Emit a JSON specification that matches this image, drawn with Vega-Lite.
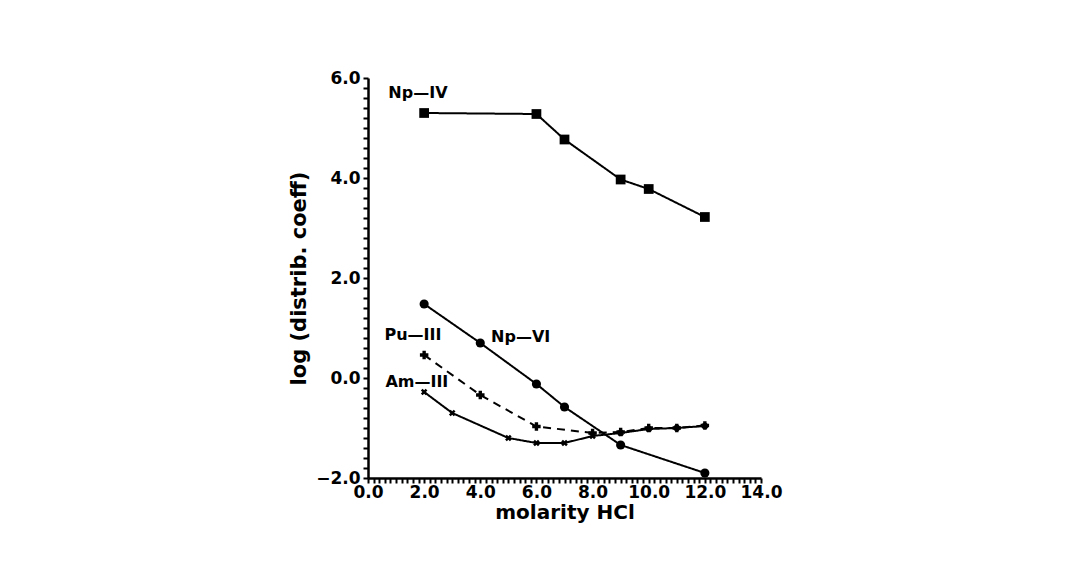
{
  "$schema": "https://vega.github.io/schema/vega-lite/v6.json",
  "autosize": {"type": "none"},
  "padding": {"left": 368, "top": 78, "right": 324, "bottom": 97},
  "width": 393,
  "height": 400,
  "background": "white",
  "config": {
    "view": {"stroke": null},
    "font": "DejaVu Sans"
  },
  "datasets": {
    "series": [
      {"series": "Np-IV", "molarity": 2, "logD": 5.3},
      {"series": "Np-IV", "molarity": 6, "logD": 5.28},
      {"series": "Np-IV", "molarity": 7, "logD": 4.77},
      {"series": "Np-IV", "molarity": 9, "logD": 3.97},
      {"series": "Np-IV", "molarity": 10, "logD": 3.78},
      {"series": "Np-IV", "molarity": 12, "logD": 3.22},
      {"series": "Np-VI", "molarity": 2, "logD": 1.48},
      {"series": "Np-VI", "molarity": 4, "logD": 0.7},
      {"series": "Np-VI", "molarity": 6, "logD": -0.12},
      {"series": "Np-VI", "molarity": 7, "logD": -0.58},
      {"series": "Np-VI", "molarity": 9, "logD": -1.34},
      {"series": "Np-VI", "molarity": 12, "logD": -1.9},
      {"series": "Pu-III", "molarity": 2, "logD": 0.46},
      {"series": "Pu-III", "molarity": 4, "logD": -0.34},
      {"series": "Pu-III", "molarity": 6, "logD": -0.97},
      {"series": "Pu-III", "molarity": 8, "logD": -1.1},
      {"series": "Pu-III", "molarity": 9, "logD": -1.08},
      {"series": "Pu-III", "molarity": 10, "logD": -1.0},
      {"series": "Pu-III", "molarity": 11, "logD": -1.0},
      {"series": "Pu-III", "molarity": 12, "logD": -0.95},
      {"series": "Am-III", "molarity": 2, "logD": -0.28},
      {"series": "Am-III", "molarity": 3, "logD": -0.7},
      {"series": "Am-III", "molarity": 5, "logD": -1.2},
      {"series": "Am-III", "molarity": 6, "logD": -1.3},
      {"series": "Am-III", "molarity": 7, "logD": -1.3},
      {"series": "Am-III", "molarity": 8, "logD": -1.16},
      {"series": "Am-III", "molarity": 9, "logD": -1.1},
      {"series": "Am-III", "molarity": 10, "logD": -1.02},
      {"series": "Am-III", "molarity": 11, "logD": -1.0},
      {"series": "Am-III", "molarity": 12, "logD": -0.96}
    ],
    "labels": [
      {"label": "Np—IV", "molarity": 1.78, "logD": 5.7},
      {"label": "Np—VI", "molarity": 5.44, "logD": 0.82},
      {"label": "Pu—III", "molarity": 1.6, "logD": 0.86},
      {"label": "Am—III", "molarity": 1.74, "logD": -0.08}
    ]
  },
  "encoding": {
    "x": {
      "field": "molarity",
      "type": "quantitative",
      "scale": {"domain": [0, 14], "nice": false, "zero": false},
      "axis": {
        "title": "molarity HCl",
        "titleFont": "DejaVu Sans",
        "titleFontSize": 20,
        "titleFontWeight": "bold",
        "titleColor": "black",
        "titlePadding": 2,
        "values": [0,0.2,0.4,0.6,0.8,1,1.2,1.4,1.6,1.8,2,2.2,2.4,2.6,2.8,3,3.2,3.4,3.6,3.8,4,4.2,4.4,4.6,4.8,5,5.2,5.4,5.6,5.8,6,6.2,6.4,6.6,6.8,7,7.2,7.4,7.6,7.8,8,8.2,8.4,8.6,8.8,9,9.2,9.4,9.6,9.8,10,10.2,10.4,10.6,10.8,11,11.2,11.4,11.6,11.8,12,12.2,12.4,12.6,12.8,13,13.2,13.4,13.6,13.8,14],
        "labelExpr": "round(datum.value*10) % 20 == 0 ? format(datum.value, '.1f') : ''",
        "labelOverlap": false,
        "labelFont": "DejaVu Sans",
        "labelFontSize": 17,
        "labelFontWeight": "bold",
        "labelColor": "black",
        "labelPadding": 1,
        "labelFlush": false,
        "domainColor": "black",
        "domainWidth": 2.5,
        "tickColor": "black",
        "tickWidth": 2,
        "tickSize": 5,
        "grid": false
      }
    },
    "y": {
      "field": "logD",
      "type": "quantitative",
      "scale": {"domain": [-2, 6], "nice": false, "zero": false},
      "axis": {
        "title": "log (distrib. coeff)",
        "titleFont": "DejaVu Sans",
        "titleFontSize": 21,
        "titleFontWeight": "bold",
        "titleColor": "black",
        "titlePadding": 6,
        "values": [-2,-1.8,-1.6,-1.4,-1.2,-1,-0.8,-0.6,-0.4,-0.2,0,0.2,0.4,0.6,0.8,1,1.2,1.4,1.6,1.8,2,2.2,2.4,2.6,2.8,3,3.2,3.4,3.6,3.8,4,4.2,4.4,4.6,4.8,5,5.2,5.4,5.6,5.8,6],
        "labelExpr": "round(datum.value*10) % 20 == 0 ? format(datum.value, '.1f') : ''",
        "labelOverlap": false,
        "labelFont": "DejaVu Sans",
        "labelFontSize": 17,
        "labelFontWeight": "bold",
        "labelColor": "black",
        "labelPadding": 3,
        "labelFlush": false,
        "domainColor": "black",
        "domainWidth": 2.5,
        "tickColor": "black",
        "tickWidth": 2,
        "tickSize": 5,
        "grid": false
      }
    }
  },
  "layer": [
    {
      "data": {"name": "series"},
      "mark": {"type": "line", "color": "black", "strokeWidth": 2},
      "encoding": {
        "detail": {"field": "series", "type": "nominal"},
        "strokeDash": {
          "field": "series",
          "type": "nominal",
          "scale": {"domain": ["Np-IV", "Np-VI", "Pu-III", "Am-III"], "range": [[1, 0], [1, 0], [8, 6], [1, 0]]},
          "legend": null
        }
      }
    },
    {
      "data": {"name": "series"},
      "mark": {"type": "point", "color": "black", "filled": true, "opacity": 1},
      "encoding": {
        "shape": {
          "field": "series",
          "type": "nominal",
          "scale": {
            "domain": ["Np-IV", "Np-VI", "Pu-III", "Am-III"],
            "range": ["square", "circle", "cross", "M-0.4,-0.85L0,-0.45L0.4,-0.85L0.85,-0.4L0.45,0L0.85,0.4L0.4,0.85L0,0.45L-0.4,0.85L-0.85,0.4L-0.45,0L-0.85,-0.4Z"]
          },
          "legend": null
        },
        "size": {
          "field": "series",
          "type": "nominal",
          "scale": {"domain": ["Np-IV", "Np-VI", "Pu-III", "Am-III"], "range": [95, 60, 110, 170]},
          "legend": null
        }
      }
    },
    {
      "data": {"name": "labels"},
      "mark": {"type": "text", "font": "DejaVu Sans", "fontSize": 16, "fontWeight": "bold", "color": "black", "align": "center", "baseline": "middle"},
      "encoding": {
        "text": {"field": "label", "type": "nominal"}
      }
    }
  ]
}
